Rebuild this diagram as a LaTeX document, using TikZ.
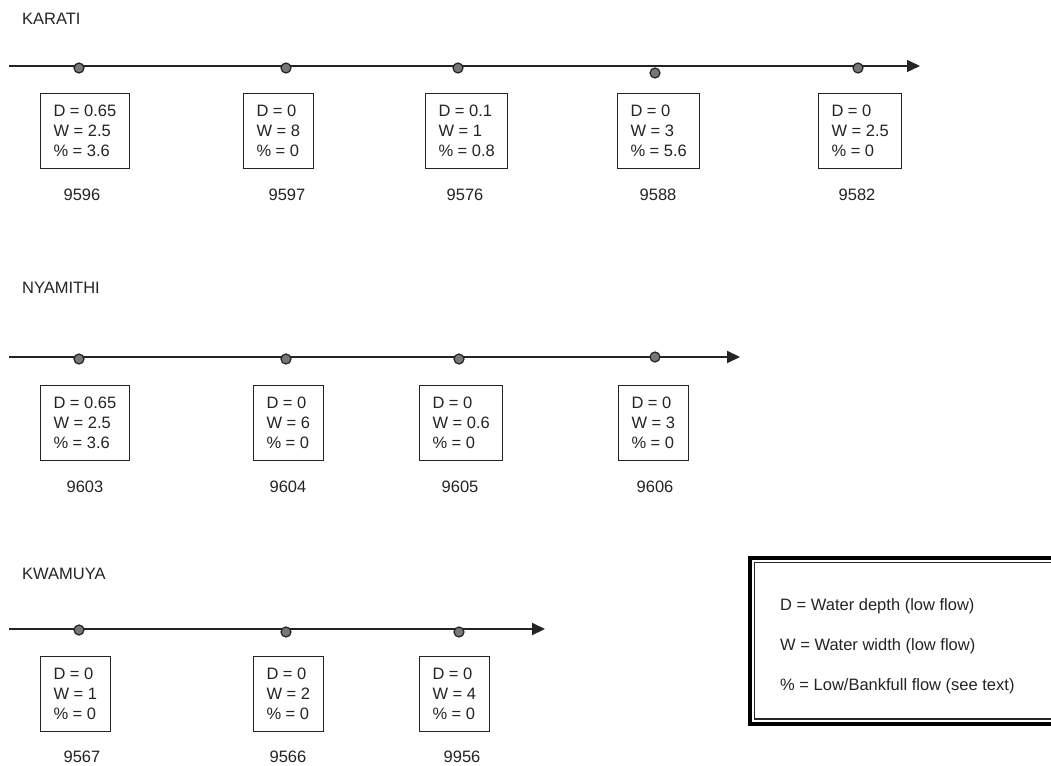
\documentclass[tikz,border=0pt]{standalone}
\usepackage{fontspec}
\setmainfont{Liberation Sans}
\usetikzlibrary{arrows.meta}
\definecolor{ink}{HTML}{242424}
\definecolor{dotfill}{HTML}{777777}
\tikzset{
  river/.style={draw=ink, line width=#1, -{Triangle[length=13pt,width=12pt]}},
  river/.default=1.3pt,
  site/.style={circle, draw=ink, fill=dotfill, line width=1.2pt, inner sep=0pt, minimum size=10pt},
  valbox/.style={draw=ink, line width=1pt, align=left, anchor=north west, inner xsep=13pt,
    minimum height=75pt, text=ink, font=\fontsize{16.5}{20}\selectfont},
  sitelbl/.style={text=ink, font=\fontsize{16.5}{20}\selectfont},
  rivertitle/.style={anchor=west, text=ink, font=\fontsize{16.5}{20}\selectfont, inner sep=0pt},
  legendtext/.style={anchor=north west, align=left, text=ink, inner sep=0pt,
    font=\fontsize{16.5}{40}\selectfont}
}
\begin{document}
\begin{tikzpicture}[x=1pt,y=-1pt]
\useasboundingbox[fill=white] (0,0) rectangle (1051,765);

% ---------------- KARATI ----------------
\node[rivertitle] (tK) at (22,19) {KARATI};
\coordinate (kS) at (9,66);
\coordinate (kE) at (920,66);
\draw[river=1.3pt] (kS) -- (kE);
\node[site] (k1) at (79,68) {};
\node[site] (k2) at (286,68) {};
\node[site] (k3) at (458,68) {};
\node[site] (k4) at (655,73) {};
\node[site] (k5) at (858,68) {};
\node[valbox] (kb1) at (40,93) {D = 0.65\\W = 2.5\\\% = 3.6};
\node[valbox] (kb2) at (243,93) {D = 0\\W = 8\\\% = 0};
\node[valbox] (kb3) at (425,93) {D = 0.1\\W = 1\\\% = 0.8};
\node[valbox] (kb4) at (617,93) {D = 0\\W = 3\\\% = 5.6};
\node[valbox] (kb5) at (818,93) {D = 0\\W = 2.5\\\% = 0};
\node[sitelbl] (kl1) at (82,195) {9596};
\node[sitelbl] (kl2) at (287,195) {9597};
\node[sitelbl] (kl3) at (465,195) {9576};
\node[sitelbl] (kl4) at (658,195) {9588};
\node[sitelbl] (kl5) at (857,195) {9582};

% ---------------- NYAMITHI ----------------
\node[rivertitle] (tN) at (22,288) {NYAMITHI};
\coordinate (nS) at (9,357);
\coordinate (nE) at (740,357);
\draw[river=2pt] (nS) -- (nE);
\node[site] (n1) at (79,359) {};
\node[site] (n2) at (286,359) {};
\node[site] (n3) at (459,359) {};
\node[site] (n4) at (655,357) {};
\node[valbox] (nb1) at (40,385) {D = 0.65\\W = 2.5\\\% = 3.6};
\node[valbox] (nb2) at (253,385) {D = 0\\W = 6\\\% = 0};
\node[valbox] (nb3) at (419,385) {D = 0\\W = 0.6\\\% = 0};
\node[valbox] (nb4) at (618,385) {D = 0\\W = 3\\\% = 0};
\node[sitelbl] (nl1) at (85,487) {9603};
\node[sitelbl] (nl2) at (288,487) {9604};
\node[sitelbl] (nl3) at (460,487) {9605};
\node[sitelbl] (nl4) at (655,487) {9606};

% ---------------- KWAMUYA ----------------
\node[rivertitle] (tW) at (22,574) {KWAMUYA};
\coordinate (wS) at (9,629);
\coordinate (wE) at (545,629);
\draw[river=2pt] (wS) -- (wE);
\node[site] (w1) at (79,630) {};
\node[site] (w2) at (286,632) {};
\node[site] (w3) at (459,632) {};
\node[valbox] (wb1) at (40,656) {D = 0\\W = 1\\\% = 0};
\node[valbox] (wb2) at (253,656) {D = 0\\W = 2\\\% = 0};
\node[valbox] (wb3) at (419,656) {D = 0\\W = 4\\\% = 0};
\node[sitelbl] (wl1) at (82,757) {9567};
\node[sitelbl] (wl2) at (288,757) {9566};
\node[sitelbl] (wl3) at (462,757) {9956};

% ---------------- LEGEND ----------------
\draw[black, line width=4pt] (750,558) rectangle (1070,724);
\draw[black!85, line width=1.5pt] (754.5,562.5) rectangle (1065,719);
\node[legendtext] (leg) at (780,598) {D = Water depth (low flow)\\W = Water width (low flow)\\\% = Low/Bankfull flow (see text)};
\end{tikzpicture}
\end{document}
